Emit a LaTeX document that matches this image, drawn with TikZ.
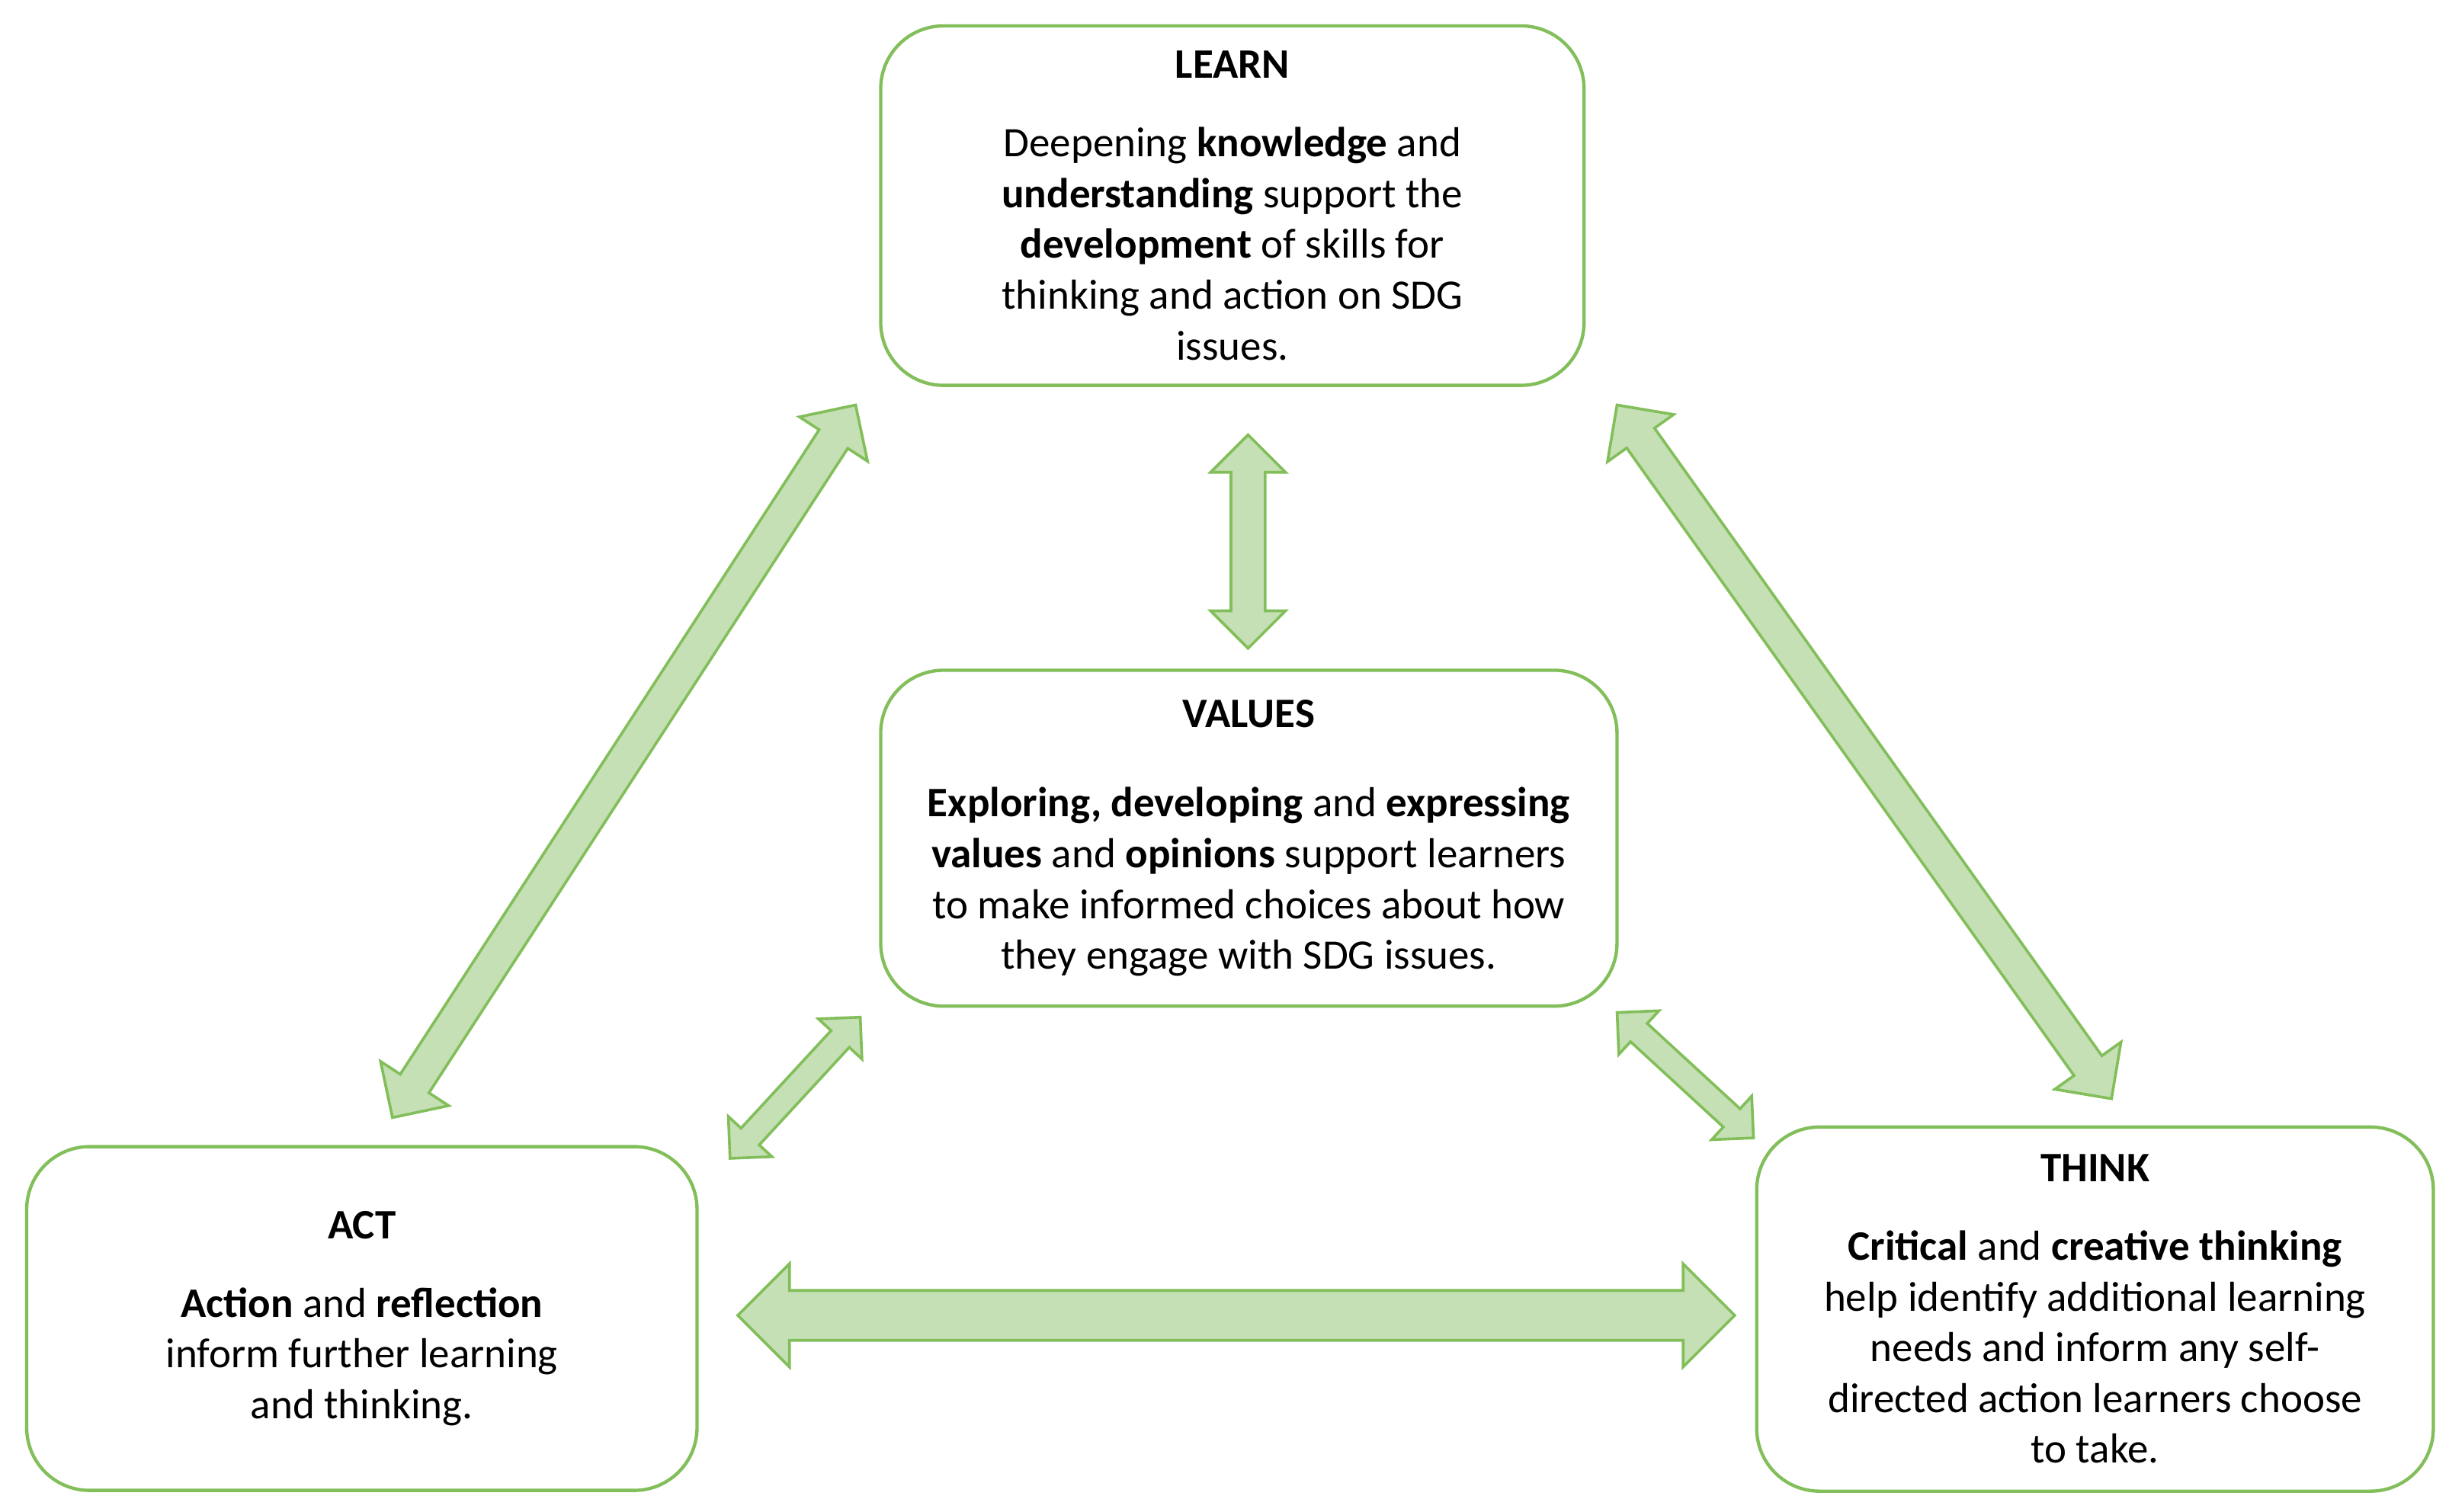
\documentclass[tikz,border=0pt]{standalone}
\usepackage{fontspec}
\setmainfont{Carlito}
\usetikzlibrary{shapes.arrows,calc}
\definecolor{boxline}{RGB}{130,190,90}
\definecolor{arrowfill}{RGB}{197,224,180}
\begin{document}
\begin{tikzpicture}
\tikzset{
  box/.style={draw=boxline,line width=0.6pt,rounded corners=0.4cm,align=center,
    font=\fontsize{7.6}{9.2}\selectfont,inner sep=0pt},
  fat/.style={double arrow,draw=boxline,fill=arrowfill,line width=0.5pt,inner sep=0pt}
}
\useasboundingbox (0,0) rectangle (15.6,9.63);
% boxes
\node[box,minimum width=4.48cm,minimum height=2.29cm] (learn) at (7.85,8.32)
 {\textbf{LEARN}\\[5pt]
  Deepening \textbf{knowledge} and\\ \textbf{understanding} support the\\
  \textbf{development} of skills for\\ thinking and action on SDG\\ issues.};
\node[box,minimum width=4.69cm,minimum height=2.14cm] (values) at (7.955,4.29)
 {\textbf{VALUES}\\[7pt]
  \textbf{Exploring, developing} and \textbf{expressing}\\
  \textbf{values} and \textbf{opinions} support learners\\
  to make informed choices about how\\ they engage with SDG issues.};
\node[box,minimum width=4.27cm,minimum height=2.19cm] (act) at (2.305,1.23)
 {\textbf{ACT}\\[5pt]
  \textbf{Action} and \textbf{reflection}\\ inform further learning\\ and thinking.};
\node[box,minimum width=4.31cm,minimum height=2.32cm] (think) at (13.345,1.29)
 {\textbf{THINK}\\[5pt]
  \textbf{Critical} and \textbf{creative thinking}\\ help identify additional learning\\
  needs and inform any self-\\ directed action learners choose\\ to take.};
% arrow end points
\coordinate (l1) at (5.45,7.05);  \coordinate (a1) at (2.50,2.51);
\coordinate (l2) at (7.95,6.86);  \coordinate (v1) at (7.95,5.50);
\coordinate (l3) at (10.30,7.05); \coordinate (t1) at (13.45,2.63);
\coordinate (v2) at (5.48,3.15);  \coordinate (a2) at (4.65,2.25);
\coordinate (v3) at (10.30,3.18); \coordinate (t2) at (11.17,2.38);
\coordinate (a3) at (4.70,1.25);  \coordinate (t3) at (11.05,1.25);
% connectors
\foreach \s/\e/\w/\h in {l1/a1/0.20/0.50, l2/v1/0.20/0.46, l3/t1/0.20/0.50,
                         v2/a2/0.14/0.36, v3/t2/0.14/0.36, a3/t3/0.30/0.64}{
  \path let \p1=(\s), \p2=(\e), \n1={atan2(\y2-\y1,\x2-\x1)}, \n2={veclen(\x2-\x1,\y2-\y1)} in
    node[fat,rotate=\n1,minimum height=\n2,
      double arrow head extend={(\h cm-\w cm)/2}] at ($(\s)!0.5!(\e)$) {\rule{0pt}{\w cm}};
}
\end{tikzpicture}
\end{document}
